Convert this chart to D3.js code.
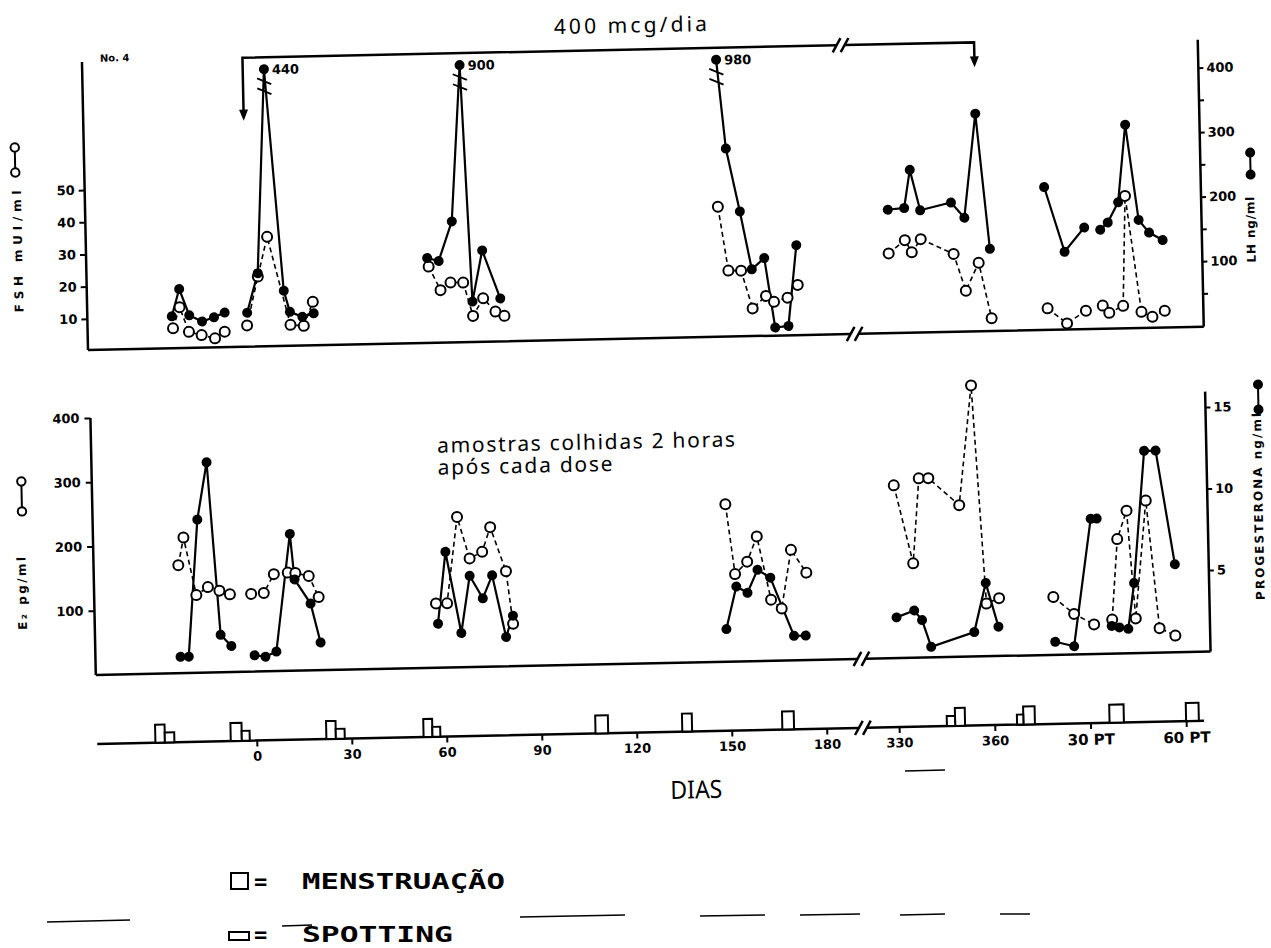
<!DOCTYPE html>
<html>
<title>No. 4 - LH, FSH, E2, Progesterona</title>
<style>
  body { margin: 0px; background: #fff; }
  svg { display: block; }
  .frame { fill: none; stroke: black; stroke-width: 2.5; }
  .solid { fill: none; stroke: black; stroke-width: 2.2; }
  .dashed { fill: none; stroke: black; stroke-width: 1.6; stroke-dasharray: 5, 3.5; }
  .filled { fill: black; }
  .open { fill: white; stroke: black; stroke-width: 2; }
  .box { fill: white; stroke: black; stroke-width: 2; }
  .axis line { stroke: black; stroke-width: 2; }
  .axis text { font-family: "DejaVu Sans", sans-serif; font-weight: bold; font-size: 13px; fill: black; }
  .label { font-family: "DejaVu Sans", sans-serif; font-weight: bold; }
  .note { font-family: "Noto Sans", sans-serif; }
  .legend { font-family: "DejaVu Sans Mono", monospace; font-weight: bold; }
</style>
<script src="https://cdn.jsdelivr.net/npm/d3@7"></script>
<body>
<svg width="1271" height="948"></svg>
<script>

// ---- data (days from start of treatment; PT = post treatment, 30 PT = day 390) ----
const lhDays = [-24, -21.5, -18.5, -14.5, -10.7, -7.3, -0.2, 3.4, 6.7, 11.5, 13.3, 17.2, 20.8,
  57, 60.6, 65, 68.5, 71, 74.4, 79.8,
  149.5, 152, 156, 159.4, 163.4, 166.4, 170.6, 173.6,
  329, 335, 337, 340, 349.7, 353.8, 357.9, 361.6,
  379, 385, 391.3, 396.3, 398.7, 402.1, 404.8, 408.4, 411.6, 415.8];
const lhValues = [48, 90, 49, 39, 45, 52, 51, 112, 440, 84, 51, 43, 48,
  130, 125, 186, 900, 61, 140, 65,
  980, 290, 192, 102, 119, 11, 13, 138,
  190, 192, 251, 188, 199, 175, 336, 126,
  220, 119, 156, 152, 163, 194, 314, 166, 146, 134];

const fshDays = [-23.7, -21.5, -18.7, -14.7, -10.5, -7.4, -0.3, 3.4, 6.6, 13.4, 17.6, 20.6,
  57.4, 61, 64.2, 68.2, 71.1, 74.4, 78.2, 81,
  149.1, 152, 156, 159.4, 163.7, 166.2, 170.5, 173.8,
  329, 335, 337.1, 340, 350.2, 353.8, 358, 361.7,
  379.3, 385.3, 391.3, 396.6, 398.6, 403, 404.3, 408.7, 412.1, 416];
const fshValues = [6.5, 13, 5.3, 4.2, 3.1, 5.1, 6.9, 22, 34.3, 6.8, 6.4, 13.8,
  24, 16.6, 18.9, 18.8, 8.4, 13.8, 9.6, 8.2,
  40.7, 20.8, 20.7, 8.9, 12.7, 10.8, 12, 15.9,
  25.1, 29.1, 25.3, 29.3, 24.5, 13, 21.6, 4.3,
  7, 2.2, 6, 7.5, 5.2, 7.3, 41.4, 5.3, 3.7, 5.5];

const e2Days = [-23.6, -21.8, -18.1, -14.4, -10.8, -7.5, -0.8, 3.2, 6.5, 10.9, 13.3, 17.5, 20.5,
  57.5, 61, 64.7, 68.4, 72.4, 75.1, 79.8, 81.7,
  149.5, 152.1, 156, 159.2, 163.3, 166.6, 169.9, 174.6,
  329.5, 335.5, 337.8, 340.8, 350.3, 354.8, 358.2, 362.2,
  379.2, 385.6, 391.8, 397.5, 399.6, 402.7, 404.9, 408.8, 412.3, 417.2];
const e2Values = [168, 211, 121, 133, 127, 121, 121, 122, 151, 153, 152, 147, 114,
  100, 100, 234, 169, 179, 217, 148, 66,
  245, 136, 155, 194, 95, 81, 172, 136,
  269, 147, 279, 279, 236, 422, 82, 90,
  90, 63, 46, 53, 178, 222, 54, 237, 38, 26];

const progDays = [-23.5, -20.9, -17.3, -14, -10.7, -7.4, -0.1, 3.3, 6.8, 11.8, 13, 17.9, 20.8,
  58, 60.8, 65.3, 68.3, 72.3, 75.4, 79.4, 81.7,
  149, 152.4, 155.9, 159.2, 163.2, 170.3, 174,
  329.5, 335.5, 337.9, 340.6, 354.2, 358.1, 361.8,
  379.5, 385.4, 391.4, 393.3, 397.3, 399.7, 402.5, 404.6, 408.6, 412.2, 417.5];
const progValues = [1.0, 1.0, 9.4, 12.9, 2.3, 1.6, 1.0, 0.9, 1.2, 8.4, 5.6, 4.1, 1.7,
  2.7, 7.1, 2.1, 5.6, 4.2, 5.6, 1.8, 3.1,
  2.0, 4.6, 4.2, 5.6, 5.1, 1.5, 1.5,
  2.5, 2.9, 2.3, 0.65, 1.5, 4.5, 1.8,
  0.8, 0.5, 8.3, 8.3, 1.7, 1.6, 1.5, 4.3, 12.4, 12.4, 5.4];

const gapDays = [-4, 394];            // lines are interrupted here
const mensesDays = [[-32, -29], [-8.2, -4.7], [22, 25], [52.7, 55.5], [107, 111], [134.4, 137.5],
  [166, 169.7], [347.6, 350.7], [369, 372.6], [396, 400.5], [420, 424]];
const spottingDays = [[-29, -26], [-4.7, -2.2], [25, 27.8], [55.5, 58], [345, 347.6], [367, 369]];
const doseDays = [0, 358];
const doseLabel = "400 mcg/dia";

const dayTicks = [0, 30, 60, 90, 120, 150, 180, 330, 360, 390, 420];
const dayTickLabels = ["0", "30", "60", "90", "120", "150", "180", "330", "360", "30 PT", "60 PT"];
const fshTicks = [10, 20, 30, 40, 50];
const lhTicks = [50, 100, 150, 200, 250, 300, 350, 400];
const e2Ticks = [100, 200, 300, 400];
const progTicks = [5, 10, 15];
const noteLines = ["amostras colhidas 2 horas", "após cada dose"];
const legendLabels = ["MENSTRUAÇÃO", "SPOTTING"];

const lhCap = 428;

// ---- scales ----
const svg = d3.select("svg");
// the scanned figure is tilted a little: draw it straight, then tilt the whole group
const chart = svg.append("g").attr("transform", "rotate(-1.2 88 350)");

const x = d3.scaleLinear().domain([-60, 180, 330, 430]).range([58.5, 818.6, 891, 1210]);
const fshY = d3.scaleLinear().domain([0, 50]).range([351, 190]);
const lhY = d3.scaleLinear().domain([0, 400]).range([349, 91]);
const e2Y = d3.scaleLinear().domain([0, 400]).range([675, 418]);
const progY = d3.scaleLinear().domain([0, 15]).range([675, 430.5]);

const leftX = 88, rightX = 1204, dayAxisY = 744;
const breakX = (x(180) + x(330)) / 2;

// ---- frames ----
function slashes(cx, cy) {
  [-4, 4].forEach(o => chart.append("line").attr("class", "frame").attr("stroke-width", 1.8)
    .attr("x1", cx + o - 4).attr("y1", cy + 7).attr("x2", cx + o + 4).attr("y2", cy - 7));
}
function brokenLine(y, x0, x1) {
  chart.append("path").attr("class", "frame")
    .attr("d", `M${x0},${y}H${breakX - 4}M${breakX + 4},${y}H${x1}`);
  slashes(breakX, y);
}

chart.append("path").attr("class", "frame").attr("d", `M${leftX},62V350M${rightX},63V350`);
brokenLine(350, leftX, rightX);
chart.append("path").attr("class", "frame").attr("d", `M${leftX + 1},418V675M${rightX},415V675`);
brokenLine(675, leftX + 1, rightX);
brokenLine(dayAxisY, leftX + 1, 1196);

// ---- axes ----
function styleAxis(a) { a.attr("class", "axis").select(".domain").remove(); }

chart.append("g").attr("transform", `translate(${leftX},0)`)
  .call(d3.axisLeft(fshY).tickValues(fshTicks).tickSize(6).tickPadding(4)).call(styleAxis);
chart.append("g").attr("transform", `translate(${rightX},0)`)
  .call(d3.axisRight(lhY).tickValues(lhTicks).tickSize(5).tickPadding(3)
    .tickFormat(d => d % 100 ? "" : d)).call(styleAxis);
chart.append("g").attr("transform", `translate(${leftX + 1},0)`)
  .call(d3.axisLeft(e2Y).tickValues(e2Ticks).tickSize(6).tickPadding(5)).call(styleAxis);
chart.append("g").attr("transform", `translate(${rightX},0)`)
  .call(d3.axisRight(progY).tickValues(progTicks).tickSize(5).tickPadding(3)).call(styleAxis);

const dayAxis = chart.append("g").attr("transform", `translate(0,${dayAxisY})`)
  .call(d3.axisBottom(x).tickValues(dayTicks).tickFormat((d, i) => dayTickLabels[i])
    .tickSize(6).tickPadding(5)).call(styleAxis);
dayAxis.selectAll("text").filter(d => d > 360).style("font-size", "15px");

// ---- axis titles ----
function vText(cx, cy, str, size, len) {
  chart.append("text").attr("class", "label")
    .attr("transform", `translate(${cx},${cy}) rotate(-90)`)
    .attr("text-anchor", "middle").attr("dy", "0.35em")
    .attr("font-size", size).attr("textLength", len).attr("lengthAdjust", "spacing")
    .text(str);
}
function pairSymbol(cx, y0, y1, cls) {
  chart.append("line").attr("x1", cx).attr("x2", cx).attr("y1", y0).attr("y2", y1)
    .attr("stroke", "black").attr("stroke-width", 2);
  [y0, y1].forEach(y => chart.append("circle").attr("class", cls)
    .attr("cx", cx).attr("cy", y).attr("r", cls === "open" ? 4.2 : 5));
}
vText(20, 250, "FSH   mUI/ml", 12, 122);
pairSymbol(19, 146, 171, "open");
vText(17, 592, "E\u2082   pg/ml", 12, 73);
pairSymbol(18.6, 480, 510, "open");
vText(1253, 254, "LH   ng/ml", 12, 66);
pairSymbol(1254, 177, 199, "filled");
vText(1255, 531, "PROGESTERONA   ng/ml", 12, 187);
pairSymbol(1257, 409, 434, "filled");

chart.append("text").attr("class", "label").attr("x", 106).attr("y", 62)
  .attr("font-size", 10).text("No. 4");

// ---- dose bracket ----
const dx0 = x(doseDays[0]), dx1 = x(doseDays[1]);
chart.append("path").attr("class", "frame").attr("stroke-width", 2)
  .attr("d", `M${dx0},114V61H${breakX - 12}M${breakX - 4},61H${dx1}V76`);
slashes(breakX - 8, 61);
[[dx0, 124], [dx1, 86]].forEach(([ax, ay]) => chart.append("path").attr("fill", "black")
  .attr("d", `M${ax - 4.5},${ay - 11}L${ax + 4.5},${ay - 11}L${ax},${ay}Z`));
chart.append("text").attr("class", "note").attr("x", 637).attr("y", 44)
  .attr("text-anchor", "middle").attr("font-size", 21)
  .attr("textLength", 153).attr("lengthAdjust", "spacing").text(doseLabel);

noteLines.forEach((t, i) => chart.append("text").attr("class", "note")
  .attr("x", 435).attr("y", 460 + i * 22).attr("font-size", 21)
  .attr("textLength", i ? 175 : 298).attr("lengthAdjust", "spacing").text(t));

chart.append("text").attr("class", "note").attr("x", 687).attr("y", 811)
  .attr("text-anchor", "middle").attr("font-size", 25)
  .attr("textLength", 52).attr("lengthAdjust", "spacingAndGlyphs").text("DIAS");

// ---- menstruation / spotting ----
chart.selectAll(".menses").data(mensesDays).join("rect").attr("class", "box")
  .attr("x", d => x(d[0])).attr("width", d => x(d[1]) - x(d[0]))
  .attr("y", dayAxisY - 18).attr("height", 18);
chart.selectAll(".spot").data(spottingDays).join("rect").attr("class", "box")
  .attr("x", d => x(d[0])).attr("width", d => x(d[1]) - x(d[0]))
  .attr("y", dayAxisY - 10).attr("height", 10);

// ---- series ----
const lineLayer = chart.append("g");
const openLayer = chart.append("g");
const filledLayer = chart.append("g");

function series(days, values, yScale, kind, cap) {
  const pts = days.map((d, i) => ({ d, v: values[i],
    y: yScale(cap ? Math.min(values[i], cap) : values[i]) }));
  const runs = [];
  pts.forEach((p, i) => {
    const prev = pts[i - 1];
    if (!prev || p.d - prev.d > 14 || gapDays.some(g => prev.d < g && p.d > g)) runs.push([]);
    runs[runs.length - 1].push(p);
  });
  const line = d3.line().x(p => x(p.d)).y(p => p.y);
  lineLayer.append("g").selectAll("path").data(runs).join("path")
    .attr("class", kind === "open" ? "dashed" : "solid").attr("d", line);
  (kind === "open" ? openLayer : filledLayer).append("g")
    .selectAll("circle").data(pts).join("circle")
    .attr("class", kind).attr("cx", p => x(p.d)).attr("cy", p => p.y).attr("r", 5);
  return pts;
}

series(fshDays, fshValues, fshY, "open");
const lhPts = series(lhDays, lhValues, lhY, "filled", lhCap);
series(e2Days, e2Values, e2Y, "open");
series(progDays, progValues, progY, "filled");

// values beyond the LH scale: break marks and printed value
lhPts.filter(p => p.v > lhCap).forEach(p => {
  const cx = x(p.d);
  [9, 19].forEach(o => filledLayer.append("line").attr("stroke", "black").attr("stroke-width", 1.8)
    .attr("x1", cx - 7).attr("y1", p.y + o).attr("x2", cx + 7).attr("y2", p.y + o + 6));
  filledLayer.append("text").attr("class", "label").attr("x", cx + 8).attr("y", p.y + 5)
    .attr("font-size", 13).text(p.v);
});

// ---- legend (outside the tilted scan) ----
const legend = svg.append("g");
legend.append("rect").attr("class", "box").attr("stroke-width", 2.5)
  .attr("x", 231).attr("y", 873).attr("width", 17).attr("height", 16);
legend.append("rect").attr("class", "box").attr("stroke-width", 2.5)
  .attr("x", 229).attr("y", 932).attr("width", 20).attr("height", 8);
[[889, 0], [942, 1]].forEach(([y, i]) => {
  legend.append("text").attr("class", "legend").attr("x", 254).attr("y", y)
    .attr("font-size", 22).text("=");
  legend.append("text").attr("class", "legend").attr("x", 302).attr("y", y)
    .attr("font-size", 22).attr("textLength", i ? 151 : 203)
    .attr("lengthAdjust", "spacingAndGlyphs").text(legendLabels[i]);
});

// stray rules from the scanned page
const scanLines = [[47, 922, 130, 920], [520, 917, 625, 915], [700, 916, 765, 915],
  [800, 915, 860, 914], [900, 915, 945, 914], [1000, 914, 1030, 914], [282, 926, 312, 925],
  [905, 771, 945, 770]];
svg.append("g").selectAll("line").data(scanLines).join("line")
  .attr("x1", d => d[0]).attr("y1", d => d[1]).attr("x2", d => d[2]).attr("y2", d => d[3])
  .attr("stroke", "black").attr("stroke-width", 1.5);
</script>
</body>
</html>
